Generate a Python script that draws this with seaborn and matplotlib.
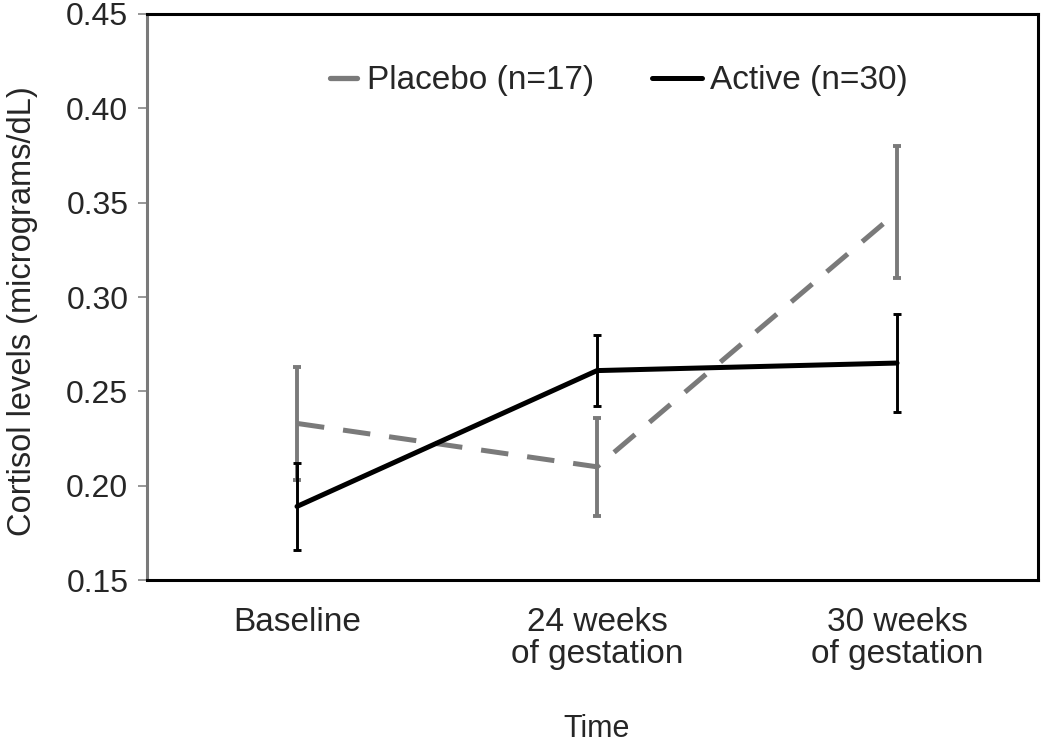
import matplotlib
matplotlib.use("Agg")
import matplotlib.pyplot as plt
import numpy as np
import pandas as pd
import seaborn as sns

times = ["Baseline", "24 weeks\nof gestation", "30 weeks\nof gestation"]
placebo_mean = [0.233, 0.210, 0.345]
placebo_err = [0.030, 0.026, 0.035]
active_mean = [0.189, 0.261, 0.265]
active_err = [0.023, 0.019, 0.026]
groups = ["Placebo (n=17)", "Active (n=30)"]
yticks = [0.15, 0.20, 0.25, 0.30, 0.35, 0.40, 0.45]

sns.set_style("white")
plt.rcParams["font.family"] = ["Liberation Sans", "DejaVu Sans"]

df = pd.DataFrame({
    "time": list(range(3)) * 2,
    "cortisol": placebo_mean + active_mean,
    "err": placebo_err + active_err,
    "group": [groups[0]] * 3 + [groups[1]] * 3,
})

gray = "#7a7a7a"
colors = {groups[0]: gray, groups[1]: "black"}

fig = plt.figure(figsize=(10.5, 7.44), dpi=100)
ax = fig.add_axes([0.140, 0.2204, 0.8486, 0.7608])

# error bars under the lines
for g in groups:
    d = df[df["group"] == g]
    w = 2.8 if g == groups[0] else 2.1
    ax.errorbar(d["time"], d["cortisol"], yerr=d["err"], fmt="none",
                ecolor=colors[g], elinewidth=w, capsize=3.2, capthick=w, zorder=2)

sns.lineplot(data=df, x="time", y="cortisol", hue="group", style="group",
             palette=colors, dashes={groups[0]: (5.5, 3.8), groups[1]: ""},
             linewidth=3.6, ax=ax, legend=False, zorder=3)

ax.set_xlim(-0.5, 2.47)
ax.set_ylim(0.15, 0.45)
ax.set_yticks(yticks)
ax.set_yticklabels([f"{v:.2f}" for v in yticks], fontsize=23)
ax.set_xticks(range(3))
ax.set_xticklabels(times, fontsize=24, linespacing=1.05)
ax.tick_params(axis="x", length=0, pad=19.5)
ax.tick_params(axis="y", length=6.5, width=1.1, color=gray, direction="out", left=True, pad=7)

for s in ["top", "right", "bottom"]:
    ax.spines[s].set_color("black")
    ax.spines[s].set_linewidth(2.2)
ax.spines["left"].set_color(gray)
ax.spines["left"].set_linewidth(2.2)

ax.set_xlabel("Time", fontsize=22, va="bottom")
ax.xaxis.set_label_coords(0.504, -0.2895)
ax.set_ylabel("Cortisol levels (micrograms/dL)", fontsize=23.5)
ax.yaxis.set_label_coords(-0.122, 0.475)

# two separate legend entries (handles have different lengths in the original)
leg1 = ax.legend([plt.Line2D([], [], color=gray, lw=3.8)], [groups[0]],
                 loc="center left", bbox_to_anchor=(0.2054, 0.882), frameon=False,
                 fontsize=24, handlelength=0.8, handletextpad=0.3,
                 borderpad=0, borderaxespad=0)
ax.add_artist(leg1)
ax.legend([plt.Line2D([], [], color="black", lw=3.6)], [groups[1]],
          loc="center left", bbox_to_anchor=(0.5668, 0.882), frameon=False,
          fontsize=24, handlelength=1.5, handletextpad=0.24,
          borderpad=0, borderaxespad=0)

fig.savefig("out.png", dpi=100)
